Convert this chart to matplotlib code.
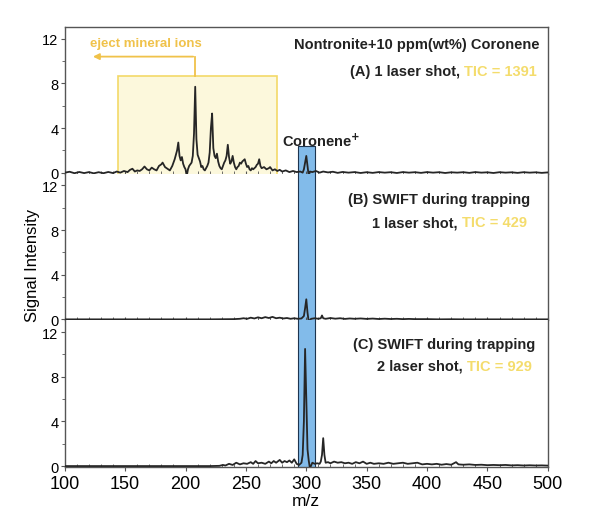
import matplotlib
matplotlib.use('Agg')
import matplotlib.pyplot as plt
from matplotlib.patches import Rectangle
from matplotlib.ticker import MultipleLocator

plt.rcParams['font.family'] = ['Liberation Sans', 'DejaVu Sans']

# spectra as (m/z, intensity) pairs
spec_a = [(100, 0.0), (104, 0.08), (108, -0.05), (112, 0.06), (116, -0.04), (120, 0.05), (124, -0.06),
          (128, 0.04), (132, -0.05), (136, 0.06), (140, -0.04), (143, 0.1), (146, 0.0), (149, 0.15),
          (152, 0.05), (154, 0.25), (156, 0.35), (158, 0.1), (160, 0.2), (162, 0.15), (164, 0.3),
          (166, 0.55), (168, 0.3), (170, 0.2), (172, 0.45), (174, 0.3), (176, 0.2), (178, 0.6),
          (180, 0.75), (181, 0.9), (183, 0.5), (185, 0.35), (187, 0.2), (189, 0.6), (191, 1.2),
          (192, 1.6), (193, 2.0), (194, 2.7), (195, 1.5), (196, 1.1), (197, 1.4), (198, 0.8),
          (199, 0.5), (200, 0.3), (201, -0.3), (202, 0.3), (203, 0.6), (205, 0.9), (206, 1.5),
          (207, 3.5), (208, 7.7), (209, 3.0), (210, 1.6), (211, 1.3), (212, 1.0), (213, 0.5),
          (214, 0.6), (215, 0.3), (216, 0.2), (217, 0.4), (218, 0.6), (219, 0.9), (220, 1.8),
          (221, 4.0), (222, 5.3), (223, 2.2), (224, 1.5), (225, 1.3), (226, 1.7), (227, 1.0),
          (228, 0.6), (229, 0.4), (230, 0.3), (231, 0.6), (232, 0.9), (233, 1.1), (234, 1.5),
          (235, 2.5), (236, 1.4), (237, 0.8), (238, 1.0), (239, 1.5), (240, 0.9), (241, 0.5),
          (242, 0.3), (243, 0.5), (244, 0.6), (245, 0.9), (246, 0.8), (247, 1.0), (248, 1.1),
          (249, 1.2), (250, 0.8), (251, 0.5), (252, 0.6), (253, 0.3), (254, 0.2), (255, 0.4),
          (256, 0.3), (258, 0.5), (259, 0.7), (260, 0.8), (261, 1.2), (262, 0.6), (263, 0.4),
          (265, 0.5), (267, 0.3), (269, 0.4), (270, 0.5), (272, 0.2), (274, 0.3), (276, 0.15),
          (278, 0.25), (280, 0.1), (283, 0.2), (286, 0.05), (289, 0.15), (292, 0.05), (295, 0.1),
          (297, 0.0), (298, 0.3), (299, 0.9), (300, 1.5), (301, 0.6), (302, -0.3), (303, 0.1),
          (305, 0.05), (308, 0.15), (311, 0.0), (314, 0.1), (318, 0.02), (322, 0.08), (326, -0.02),
          (330, 0.06), (335, 0.0), (340, 0.05), (345, -0.03), (350, 0.04), (355, -0.02), (360, 0.05),
          (365, 0.0), (370, 0.04), (375, -0.03), (380, 0.05), (385, 0.0), (390, 0.04), (395, -0.02),
          (400, 0.05), (405, 0.0), (410, 0.04), (415, -0.03), (420, 0.03), (425, 0.0), (430, 0.04),
          (435, -0.02), (440, 0.05), (445, 0.0), (450, 0.03), (455, -0.03), (460, 0.04), (465, 0.0),
          (470, 0.03), (475, -0.02), (480, 0.04), (485, 0.0), (490, 0.03), (495, -0.02), (500, 0.02)]

spec_b = [(100, 0.0), (120, 0.0), (140, 0.0), (160, 0.0), (180, 0.0), (200, 0.0), (220, 0.0),
          (240, 0.02), (245, 0.05), (248, 0.1), (251, 0.05), (254, 0.15), (257, 0.08), (260, 0.18),
          (263, 0.1), (266, 0.2), (269, 0.12), (272, 0.22), (275, 0.1), (278, 0.15), (281, 0.08),
          (284, 0.12), (287, 0.05), (290, 0.1), (293, 0.05), (296, 0.08), (298, 0.3), (299, 1.0),
          (300, 1.8), (301, 0.6), (302, -0.2), (304, 0.05), (307, 0.1), (310, 0.05), (312, 0.1),
          (313, 0.35), (314, 0.1), (316, 0.05), (320, 0.12), (324, 0.06), (328, 0.1), (332, 0.04),
          (336, 0.08), (340, 0.05), (345, 0.08), (350, 0.04), (355, 0.07), (360, 0.03), (365, 0.06),
          (370, 0.03), (375, 0.05), (380, 0.02), (385, 0.04), (390, 0.02), (400, 0.02), (410, 0.0),
          (420, 0.01), (430, 0.0), (450, 0.0), (470, 0.0), (500, 0.0)]

spec_c = [(100, 0.0), (120, 0.0), (140, 0.0), (160, 0.0), (180, 0.0), (200, 0.0), (220, 0.0),
          (228, 0.02), (231, 0.1), (233, 0.05), (236, 0.2), (239, 0.1), (242, 0.3), (245, 0.15),
          (248, 0.25), (251, 0.2), (254, 0.35), (256, 0.2), (258, 0.45), (260, 0.25), (263, 0.3),
          (266, 0.2), (269, 0.4), (271, 0.25), (273, 0.45), (275, 0.3), (278, 0.55), (280, 0.3),
          (282, 0.45), (284, 0.35), (286, 0.5), (288, 0.3), (290, 0.6), (292, 0.2), (294, 0.1),
          (296, 0.3), (297, 1.0), (298, 4.0), (299, 10.5), (300, 6.0), (301, 1.5), (302, 0.5),
          (303, -0.2), (305, 0.3), (307, 0.2), (309, 0.25), (311, 0.2), (312, 0.4), (313, 1.0),
          (314, 2.5), (315, 1.0), (316, 0.3), (318, 0.35), (320, 0.25), (323, 0.4), (326, 0.3),
          (329, 0.35), (332, 0.25), (335, 0.3), (338, 0.2), (341, 0.35), (344, 0.25), (347, 0.4),
          (350, 0.2), (353, 0.3), (356, 0.2), (360, 0.25), (364, 0.2), (368, 0.3), (372, 0.2),
          (376, 0.25), (380, 0.3), (384, 0.2), (388, 0.25), (392, 0.3), (396, 0.15), (400, 0.2),
          (404, 0.15), (408, 0.2), (412, 0.12), (416, 0.18), (420, 0.12), (424, 0.35), (426, 0.15),
          (430, 0.12), (435, 0.15), (440, 0.1), (445, 0.12), (450, 0.08), (455, 0.1), (460, 0.08),
          (465, 0.1), (470, 0.06), (475, 0.08), (480, 0.05), (485, 0.07), (490, 0.05), (495, 0.06),
          (500, 0.04)]

panel_lines = [["(B) SWIFT during trapping", "1 laser shot, ", "TIC = 429"],
               ["(C) SWIFT during trapping", "2 laser shot, ", "TIC = 929"]]
title_a = "Nontronite+10 ppm(wt%) Coronene"
shot_a = ["(A) 1 laser shot, ", "TIC = 1391"]

coronene_win = (293, 307.5)
mineral_win = (144, 276)

line_col = '#262626'
blue = '#82bbea'
blue_edge = '#1d3550'
tic_col = '#f4dc6c'
orange = '#f0c24a'

fig = plt.figure(figsize=(6, 5.1), dpi=100)
left, right, top, bottom = 0.108, 0.913, 0.945, 0.082
h = (top - bottom) / 3
axes = [fig.add_axes([left, top - (i + 1) * h, right - left, h]) for i in range(3)]
renderer = fig.canvas.get_renderer()

for i, (ax, spec) in enumerate(zip(axes, [spec_a, spec_b, spec_c])):
    mz = [p[0] for p in spec]
    inten = [p[1] for p in spec]
    ax.plot(mz, inten, color=line_col, lw=1.3, zorder=3)
    ax.set_xlim(100, 500)
    ax.set_ylim(-0.1, 13.05)
    ax.set_yticks([0, 4, 8, 12])
    ax.yaxis.set_minor_locator(MultipleLocator(2))
    ax.xaxis.set_major_locator(MultipleLocator(50))
    ax.xaxis.set_minor_locator(MultipleLocator(10))
    ax.tick_params(axis='y', which='major', direction='out', length=3, labelsize=10.5, pad=1.5,
                   color='#555555')
    ax.tick_params(axis='y', which='minor', direction='out', length=2, color='#555555')
    ax.tick_params(axis='x', which='both', direction='in', length=2, color='#555555')
    for s in ax.spines.values():
        s.set_color('#555555')
        s.set_linewidth(1.0)
    if i > 0:
        ax.spines['top'].set_visible(False)
    if i < 2:
        ax.spines['bottom'].set_visible(False)
        ax.tick_params(axis='x', labelbottom=False)
    else:
        ax.tick_params(axis='x', which='major', direction='out', length=3, labelsize=13, pad=2.5)
        ax.set_xlabel('m/z', fontsize=12.5, labelpad=1)

    # coronene window
    if i == 0:
        ax.add_patch(Rectangle((coronene_win[0], -0.1), coronene_win[1] - coronene_win[0], 2.5,
                               facecolor=blue, edgecolor='none', zorder=1))
        ax.plot([coronene_win[0], coronene_win[0], coronene_win[1], coronene_win[1]],
                [-0.1, 2.4, 2.4, -0.1], color=blue_edge, lw=0.8, zorder=2)
    else:
        ax.axvspan(coronene_win[0], coronene_win[1], facecolor=blue, edgecolor='none', zorder=1)
        ax.axvline(coronene_win[0], color=blue_edge, lw=0.8, zorder=2)
        ax.axvline(coronene_win[1], color=blue_edge, lw=0.8, zorder=2)

ax_a, ax_b, ax_c = axes

# mineral ion box and arrow
ax_a.add_patch(Rectangle((mineral_win[0], -0.4), mineral_win[1] - mineral_win[0], 9.1,
                         facecolor='#fcf8dc', edgecolor='#f3d968', lw=1.2, zorder=1, clip_on=False))
ax_a.plot([208, 208], [8.7, 10.4], color=orange, lw=1.3, zorder=2)
ax_a.annotate('', xy=(121, 10.4), xytext=(208.6, 10.4),
              arrowprops=dict(arrowstyle='-|>', color=orange, lw=1.3, mutation_scale=9))
ax_a.text(167, 11.6, 'eject mineral ions', ha='center', va='center', fontsize=9.5,
          color=orange, fontweight='semibold')

ax_a.text(279.5, 2.85, r'Coronene$^{\mathbf{+}}$', ha='left', va='center', fontsize=10.5,
          fontweight='bold', color='#222222')


def two_tone(ax, x, y, dark, light):
    t = ax.text(x, y, light, transform=ax.transAxes, ha='right', va='center', fontsize=10.5,
                fontweight='bold', color=tic_col)
    bb = t.get_window_extent(renderer)
    x0 = ax.transAxes.inverted().transform((bb.x0, bb.y0))[0]
    ax.text(x0, y, dark, transform=ax.transAxes, ha='right', va='center', fontsize=10.5,
            fontweight='bold', color='#222222')


ax_a.text(0.983, 0.884, title_a, transform=ax_a.transAxes, ha='right', va='center',
          fontsize=10.5, fontweight='bold', color='#222222')
two_tone(ax_a, 0.978, 0.70, shot_a[0], shot_a[1])

for ax, (l1, l2, l3), ys, xr in zip([ax_b, ax_c], panel_lines, [(0.827, 0.67), (0.838, 0.69)],
                                   [(0.964, 0.957), (0.975, 0.966)]):
    ax.text(xr[0], ys[0], l1, transform=ax.transAxes, ha='right', va='center', fontsize=10.5,
            fontweight='bold', color='#222222')
    two_tone(ax, xr[1], ys[1], l2, l3)

fig.text(0.055, 0.48, 'Signal Intensity', rotation=90, ha='center', va='center', fontsize=12)

fig.savefig('out.png', dpi=100)
